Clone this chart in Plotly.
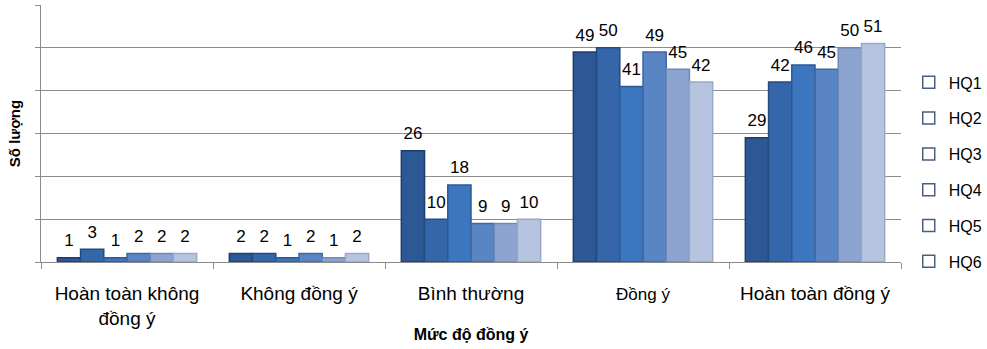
import plotly.graph_objects as go

# Survey responses per agreement level, one series per question HQ1..HQ6
categories = ["Hoàn toàn không<br>đồng ý", "Không đồng ý", "Bình thường",
              "<span style='font-size:17px'>Đồng ý</span>", "Hoàn toàn đồng ý"]
series_names = ["HQ1", "HQ2", "HQ3", "HQ4", "HQ5", "HQ6"]
hq1 = [1, 2, 26, 49, 29]
hq2 = [3, 2, 10, 50, 42]
hq3 = [1, 1, 18, 41, 46]
hq4 = [2, 2, 9, 49, 45]
hq5 = [2, 1, 9, 45, 50]
hq6 = [2, 2, 10, 42, 51]
series_values = [hq1, hq2, hq3, hq4, hq5, hq6]

fill_colors = ["#2C5895", "#3566A9", "#3B76BF", "#5985C4", "#8DA4D1", "#B6C4DF"]
edge_colors = ["#1E3D6B", "#254A80", "#2A5995", "#3F66A3", "#6F88B8", "#98A8C8"]

GRID = "#8C8C8C"
FONT = "Liberation Sans, Arial, sans-serif"
GAP = 0.19

fig = go.Figure()
for name, vals, fc, ec in zip(series_names, series_values, fill_colors, edge_colors):
    fig.add_trace(go.Bar(
        x=categories, y=vals, name=name,
        marker=dict(color=fc, line=dict(color=ec, width=1.5)),
        showlegend=False, hoverinfo="x+y+name",
    ))

# Value labels, grouped the same way as the bars and lifted a little above each top
for name, vals in zip(series_names, series_values):
    fig.add_trace(go.Scatter(
        x=categories, y=vals, mode="markers+text", text=vals,
        textposition="top center", cliponaxis=False,
        marker=dict(size=10, opacity=0),
        textfont=dict(size=17, color="#000000", family=FONT),
        showlegend=False, hoverinfo="skip",
    ))

# Legend entries drawn as outlined squares (kept on a hidden axis pair so they
# do not take part in the grouping of the label traces)
for name in series_names:
    fig.add_trace(go.Scatter(
        x=[None], y=[None], name=name, mode="markers",
        marker=dict(symbol="square", size=12, color="#FFFFFF",
                    line=dict(color="#4A5F80", width=1.5)),
        legendgroup=name, xaxis="x2", yaxis="y2",
    ))

fig.update_layout(
    width=987, height=349,
    margin=dict(l=41, r=86, t=5, b=87, autoexpand=False),
    paper_bgcolor="#FFFFFF", plot_bgcolor="#FFFFFF",
    barmode="group", bargap=GAP, bargroupgap=0,
    scattermode="group", scattergap=GAP,
    font=dict(family=FONT, color="#000000"),
    showlegend=True,
    legend=dict(
        x=1.009, xanchor="left", y=0.765, yanchor="top",
        font=dict(size=16, family=FONT, color="#000000"),
        tracegroupgap=12, itemwidth=30,
        bgcolor="rgba(0,0,0,0)",
    ),
    xaxis=dict(
        showline=True, linecolor=GRID, linewidth=1,
        ticks="outside", ticklen=6, tickcolor=GRID, tickson="boundaries",
        showgrid=False,
        tickfont=dict(size=19, family=FONT, color="#000000"),
        ticklabelstandoff=14,
        title=dict(text="<b>Mức độ đồng ý</b>", font=dict(size=16, family=FONT),
                   standoff=1),
    ),
    yaxis=dict(
        range=[0, 60], dtick=10, showticklabels=False,
        showline=True, linecolor=GRID, linewidth=1,
        ticks="outside", ticklen=5, tickcolor=GRID,
        showgrid=True, gridcolor=GRID, gridwidth=1, zeroline=False,
        title=dict(text="<b>Số lượng</b>", font=dict(size=15, family=FONT),
                   standoff=10),
    ),
    xaxis2=dict(overlaying="x", visible=False),
    yaxis2=dict(overlaying="y", visible=False),
)

fig.write_html("out.html")
